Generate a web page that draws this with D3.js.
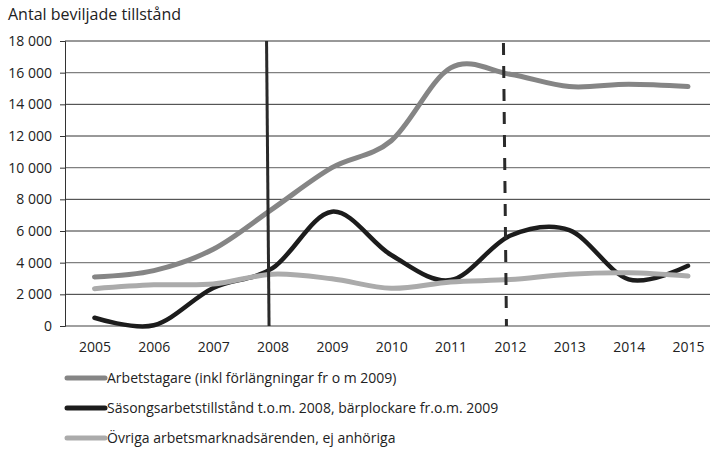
<!DOCTYPE html>
<html>

<head>
    <meta charset=utf-8 />
    <script src="https://cdn.jsdelivr.net/npm/d3@7"></script>
    <title>Antal beviljade tillstånd</title>
    <style>
        html,
        body {
            margin: 0;
            padding: 0;
            background: white;
        }

        svg {
            display: block;
            font-family: "Open Sans", sans-serif;
        }

        .series {
            fill: none;
            stroke-linecap: round;
            stroke-linejoin: round;
        }
    </style>
</head>

<body>
    <svg width="710" height="455"></svg>
    <script>
        var years = [2005, 2006, 2007, 2008, 2009, 2010, 2011, 2012, 2013, 2014, 2015];
        var arbetstagare = [3100, 3500, 4850, 7400, 10000, 11700, 16300, 15900, 15120, 15270, 15120];
        var sasong = [520, 50, 2400, 3650, 7220, 4480, 2900, 5700, 6050, 2950, 3800];
        var ovriga = [2360, 2600, 2650, 3270, 2980, 2380, 2780, 2930, 3270, 3360, 3160];
        var yTicks = [0, 2000, 4000, 6000, 8000, 10000, 12000, 14000, 16000, 18000];
        var markerYears = [2008, 2012];

        var seriesNames = [
            'Arbetstagare (inkl förlängningar fr o m 2009)',
            'Säsongsarbetstillstånd t.o.m. 2008, bärplockare fr.o.m. 2009',
            'Övriga arbetsmarknadsärenden, ej anhöriga'
        ];
        var seriesColors = ['#858585', '#1c1c1c', '#ababab'];

        var series = [arbetstagare, sasong, ovriga].map(function (vals, i) {
            return { name: seriesNames[i], color: seriesColors[i], values: vals };
        });

        var svg = d3.select('svg');

        var x = d3.scalePoint()
            .domain(years)
            .range([94.5, 688]);

        var y = d3.scaleLinear()
            .domain([0, 18000])
            .range([326, 41]);

        var fmt = function (d) {
            return d3.format(',')(d).replace(/,/g, ' ');
        };

        // title
        svg.append('text')
            .attr('x', 8)
            .attr('y', 20)
            .style('font-size', '16px')
            .style('fill', '#222')
            .text('Antal beviljade tillstånd');

        // gridlines
        svg.append('g')
            .selectAll('line')
            .data(yTicks)
            .enter().append('line')
            .attr('x1', 65)
            .attr('x2', 710)
            .attr('y1', function (d) { return y(d); })
            .attr('y2', function (d) { return y(d); })
            .attr('stroke', function (d) {
                return (d / 2000) % 3 === 2 || d === 0 ? '#808080' : '#333';
            })
            .attr('stroke-width', function (d) {
                return (d / 2000) % 3 === 2 || d === 0 ? 1.4 : 1;
            });

        // y axis
        var yAxis = d3.axisLeft(y)
            .tickValues(yTicks)
            .tickFormat(fmt)
            .tickSize(5)
            .tickPadding(8);

        var gy = svg.append('g')
            .attr('transform', 'translate(65,0)')
            .call(yAxis);
        gy.select('.domain').attr('stroke', '#333');
        gy.selectAll('.tick line').attr('stroke', '#333');
        gy.selectAll('text')
            .style('font-size', '14px')
            .style('fill', '#222')
            .style('font-family', '"Open Sans", sans-serif');

        // x axis labels
        var xAxis = d3.axisBottom(x)
            .tickSize(0)
            .tickPadding(16);

        var gx = svg.append('g')
            .attr('transform', 'translate(0,326)')
            .call(xAxis);
        gx.select('.domain').remove();
        gx.selectAll('text')
            .style('font-size', '14px')
            .style('fill', '#222')
            .style('font-family', '"Open Sans", sans-serif');

        // lines
        var line = d3.line()
            .x(function (d, i) { return x(years[i]); })
            .y(function (d) { return y(d); })
            .curve(d3.curveCardinal.tension(0));

        svg.append('g')
            .selectAll('path')
            .data(series)
            .enter().append('path')
            .attr('class', 'series')
            .attr('d', function (d) { return line(d.values); })
            .attr('stroke', function (d) { return d.color; })
            .attr('stroke-width', function (d, i) { return i === 1 ? 4.5 : 5; });

        // marker lines (2008 solid, 2012 dashed)
        svg.append('line')
            .attr('x1', x(markerYears[0]) - 6)
            .attr('x2', x(markerYears[0]) - 3.5)
            .attr('y1', y(18000))
            .attr('y2', y(0))
            .attr('stroke', '#2a2a2a')
            .attr('stroke-width', 3);

        svg.append('line')
            .attr('x1', x(markerYears[1]) - 6.5)
            .attr('x2', x(markerYears[1]) - 3.5)
            .attr('y1', y(18000) + 2)
            .attr('y2', y(0))
            .attr('stroke', '#2a2a2a')
            .attr('stroke-width', 3)
            .attr('stroke-dasharray', '12 11');

        // legend
        var legend = svg.append('g')
            .selectAll('g')
            .data(series)
            .enter().append('g')
            .attr('transform', function (d, i) {
                return 'translate(65,' + (378 + i * 30) + ')';
            });

        legend.append('line')
            .attr('x1', 2)
            .attr('x2', 40)
            .attr('stroke', function (d) { return d.color; })
            .attr('stroke-width', 5)
            .attr('stroke-linecap', 'round');

        legend.append('text')
            .attr('x', 42)
            .attr('dy', '0.35em')
            .style('font-size', '14px')
            .style('fill', '#222')
            .text(function (d) { return d.name; });
    </script>
</body>

</html>
